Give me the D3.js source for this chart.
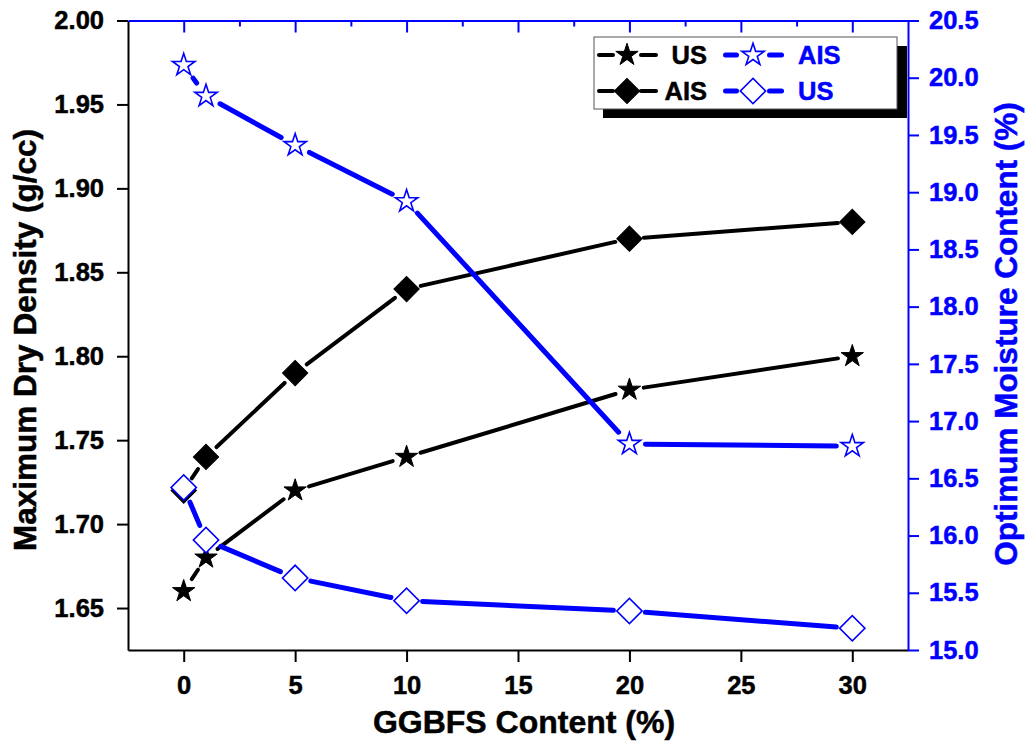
<!DOCTYPE html>
<html>
<head>
<meta charset="utf-8">
<script src="https://cdn.jsdelivr.net/npm/d3@7"></script>
<style>
  html, body { margin: 0; padding: 0; background: #fff; }
  svg { display: block; }
  text { font-family: "Liberation Sans", Arial, Helvetica, sans-serif; font-weight: bold; }
</style>
</head>
<body>
<svg id="chart" width="1026" height="747"></svg>
<script>
// GGBFS content (%) on the x axis
const ggbfs = [0, 1, 5, 10, 20, 30];

// Maximum dry density (g/cc), left axis
const mddUS  = [1.66, 1.68, 1.72, 1.74, 1.78, 1.80];
const mddAIS = [1.72, 1.74, 1.79, 1.84, 1.87, 1.88];

// Optimum moisture content (%), right axis
const omcAIS = [20.11, 19.84, 19.41, 18.92, 16.80, 16.78];
const omcUS  = [16.42, 15.96, 15.63, 15.43, 15.34, 15.19];

// Tick values
const xTicks      = [0, 5, 10, 15, 20, 25, 30];
const xMinorTicks = [2.5, 7.5, 12.5, 17.5, 22.5, 27.5];
const leftTicks   = [1.65, 1.70, 1.75, 1.80, 1.85, 1.90, 1.95, 2.00];
const rightTicks  = [15.0, 15.5, 16.0, 16.5, 17.0, 17.5, 18.0, 18.5, 19.0, 19.5, 20.0, 20.5];

const BLUE = "#0000ff";
const svg = d3.select("#chart");

const plotL = 128, plotR = 908, plotT = 20.5, plotB = 650;
const x  = d3.scaleLinear([-2.5, 32.5], [plotL, plotR]);
const yL = d3.scaleLinear([1.625, 2.0], [plotB, plotT]);
const yR = d3.scaleLinear([15.0, 20.5], [plotB, plotT]);

// heavy bold text: fill plus a thin outline of the same colour
const heavy = (sel, color) => sel.attr("fill", color).attr("stroke", color).attr("stroke-width", 0.5);

// ---- axes ----
const styleAxis = (g, color) => {
  g.select(".domain").attr("stroke", color).attr("stroke-width", 2);
  g.selectAll(".tick line").attr("stroke", color).attr("stroke-width", 2);
  g.selectAll(".tick text").attr("font-size", 25.5)
    .attr("font-family", "'Liberation Sans', Arial, sans-serif").attr("font-weight", "bold")
    .call(heavy, color);
};

svg.append("g").attr("transform", `translate(0,${plotB})`)
  .call(d3.axisBottom(x).tickValues(xTicks).tickFormat(d3.format("d"))
    .tickSize(12).tickSizeOuter(0).tickPadding(14))
  .call(g => styleAxis(g, "#000"));

svg.append("g").attr("transform", `translate(${plotL},0)`)
  .call(d3.axisLeft(yL).tickValues(leftTicks).tickFormat(d3.format(".2f"))
    .tickSize(11).tickSizeOuter(0).tickPadding(13))
  .call(g => styleAxis(g, "#000"));

svg.append("g").attr("transform", `translate(${plotR},0)`)
  .call(d3.axisRight(yR).tickValues(rightTicks).tickFormat(d3.format(".1f"))
    .tickSize(11).tickSizeOuter(0).tickPadding(10))
  .call(g => styleAxis(g, BLUE));

// top axis: blue, inward ticks, no labels
const topAxis = svg.append("g").attr("transform", `translate(0,${plotT})`);
topAxis.call(d3.axisTop(x).tickValues(xTicks).tickFormat("").tickSize(-12).tickSizeOuter(0))
  .call(g => styleAxis(g, BLUE));
topAxis.append("g")
  .call(d3.axisTop(x).tickValues(xMinorTicks).tickFormat("").tickSize(-6).tickSizeOuter(0))
  .call(g => { g.select(".domain").remove(); g.selectAll(".tick line").attr("stroke", BLUE).attr("stroke-width", 2); });

// ---- axis titles ----
svg.append("text").attr("x", 524).attr("y", 733).attr("text-anchor", "middle")
  .attr("font-size", 32).call(heavy, "#000").text("GGBFS Content (%)");
svg.append("text").attr("transform", "translate(36,340) rotate(-90)").attr("text-anchor", "middle")
  .attr("font-size", 31.5).call(heavy, "#000").text("Maximum Dry Density (g/cc)");
svg.append("text").attr("transform", "translate(1017,334) rotate(-90)").attr("text-anchor", "middle")
  .attr("font-size", 31.5).call(heavy, BLUE).text("Optimum Moisture Content (%)");

// ---- series ----
const starSym = d3.symbol(d3.symbolStar, 155);
const diamondSym = d3.symbol(d3.symbolSquare, 320);

const series = [
  { name: "US",  vals: mddUS,  y: yL, color: "#000", width: 4, gap: 12.5, shape: "star",    fill: "#000", legendCol: 0, legendRow: 0 },
  { name: "AIS", vals: mddAIS, y: yL, color: "#000", width: 4, gap: 12.5, shape: "diamond", fill: "#000", legendCol: 0, legendRow: 1 },
  { name: "AIS", vals: omcAIS, y: yR, color: BLUE,   width: 5, gap: 13.5, shape: "star",    fill: "#fff", legendCol: 1, legendRow: 0 },
  { name: "US",  vals: omcUS,  y: yR, color: BLUE,   width: 5, gap: 13.5, shape: "diamond", fill: "#fff", legendCol: 1, legendRow: 1 }
];

function drawMarker(g, s, px, py) {
  const isStar = s.shape === "star";
  const filled = s.fill !== "#fff";
  g.append("path")
    .attr("d", isStar ? starSym() : diamondSym())
    .attr("transform", `translate(${px},${py})` + (isStar ? "" : " rotate(45)"))
    .attr("fill", s.fill)
    .attr("stroke", s.color)
    .attr("stroke-width", filled ? 1 : 1.6)
    .attr("stroke-linejoin", "miter");
}

// line pieces between markers, trimmed so they stop short of each marker
function gappedSegment(g, s, x1, y1, x2, y2, gap) {
  const dx = x2 - x1, dy = y2 - y1, len = Math.hypot(dx, dy);
  const cap = s.width / 2;
  const trim = gap + cap;
  if (len <= 2 * trim) return;
  const ux = dx / len, uy = dy / len;
  g.append("line")
    .attr("x1", x1 + ux * trim).attr("y1", y1 + uy * trim)
    .attr("x2", x2 - ux * trim).attr("y2", y2 - uy * trim)
    .attr("stroke", s.color).attr("stroke-width", s.width).attr("stroke-linecap", "round");
}

series.forEach(s => {
  const g = svg.append("g");
  const pts = ggbfs.map((v, i) => [x(v), s.y(s.vals[i])]);
  d3.pairs(pts).forEach(([a, b]) => gappedSegment(g, s, a[0], a[1], b[0], b[1], s.gap));
  pts.forEach(p => drawMarker(g, s, p[0], p[1]));
});

// ---- legend ----
const lg = svg.append("g");
lg.append("rect").attr("x", 603).attr("y", 46).attr("width", 304).attr("height", 72).attr("fill", "#000");
lg.append("rect").attr("x", 594).attr("y", 37).attr("width", 303).attr("height", 72)
  .attr("fill", "#fff").attr("stroke", "#555").attr("stroke-width", 1);

const rowY = [55, 91];
const colLine = [[597, 658, 627], [723, 784, 753]];
series.forEach(s => {
  const [lx1, lx2, mx] = colLine[s.legendCol];
  const ly = rowY[s.legendRow];
  const cap = s.width / 2;
  const gap = s.legendCol === 0 ? 12 : 14;
  lg.append("line").attr("x1", lx1 + cap).attr("x2", mx - gap - cap).attr("y1", ly).attr("y2", ly)
    .attr("stroke", s.color).attr("stroke-width", s.width).attr("stroke-linecap", "round");
  lg.append("line").attr("x1", mx + gap + cap).attr("x2", lx2 - cap).attr("y1", ly).attr("y2", ly)
    .attr("stroke", s.color).attr("stroke-width", s.width).attr("stroke-linecap", "round");
  drawMarker(lg, s, mx, ly);
  lg.append("text")
    .attr("x", s.legendCol === 0 ? 707 : 798).attr("y", ly + 9)
    .attr("text-anchor", s.legendCol === 0 ? "end" : "start")
    .attr("font-size", 25.5).call(heavy, s.color).text(s.name);
});
</script>
</body>
</html>
